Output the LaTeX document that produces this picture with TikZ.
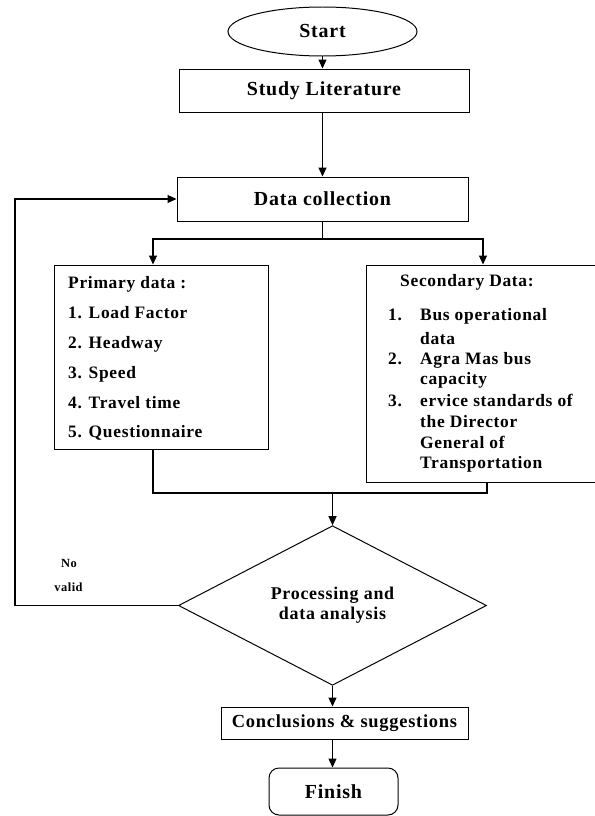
\documentclass[tikz,border=0pt]{standalone}
\usepackage{fontspec}
\setmainfont{Liberation Serif}[LetterSpace=4]
\usetikzlibrary{shapes.geometric,arrows.meta}
\begin{document}
\begin{tikzpicture}[x=1bp,y=-1bp,
        box/.style={draw, line width=1pt, inner sep=0pt},
        steptext/.style={font=\fontsize{20}{24}\selectfont\bfseries},
        listtext/.style={font=\fontsize{17.5}{21}\selectfont\bfseries, anchor=base west, inner sep=0pt},
        notetext/.style={font=\fontsize{12.5}{15}\selectfont\bfseries, inner sep=0pt},
        flow/.style={line width=1.2pt, -{Triangle[length=9pt,width=8pt]}},
        link/.style={line width=1.2pt}]
        \useasboundingbox (0,0) rectangle (595,816);
        \clip (0,0) rectangle (595,816);
        % main steps
        \node[box, ellipse, steptext, minimum width=189bp, minimum height=49bp] (start) at (322.5,31.5) {Start};
        \node[box, steptext, minimum width=290bp, minimum height=43bp] (lit) at (324,90.5) {Study Literature};
        \node[box, steptext, minimum width=291bp, minimum height=44bp] (coll) at (322.5,199) {Data collection};
        \node[box, minimum width=214bp, minimum height=184bp] (prim) at (161,357) {};
        \node[box, minimum width=234bp, minimum height=217bp] (sec) at (483,373.5) {};
        \node[box, diamond, align=center, font=\fontsize{18}{20}\selectfont\bfseries,
              minimum width=308bp, minimum height=153bp] (proc) at (332.5,605.5) {Processing and\\data analysis};
        \node[box, font=\fontsize{18.5}{22}\selectfont\bfseries, minimum width=247bp, minimum height=32bp] (concl) at (344.5,723) {Conclusions \& suggestions};
        \node[box, steptext, rounded corners=10bp, minimum width=129bp, minimum height=47bp] (fin) at (333.5,791.5) {Finish};
        % primary data
        \node[listtext] (p0) at (68,288) {Primary data :};
        \node[listtext] (p1) at (68,318) {1. Load Factor};
        \node[listtext] (p2) at (68,348) {2. Headway};
        \node[listtext] (p3) at (68,378) {3. Speed};
        \node[listtext] (p4) at (68,408) {4. Travel time};
        \node[listtext] (p5) at (68,437) {5. Questionnaire};
        % secondary data
        \node[listtext] (s0) at (400,286) {Secondary Data:};
        \node[listtext] (s1n) at (388,320) {1.};
        \node[listtext] (s1) at (420,320) {Bus operational};
        \node[listtext] (s1b) at (420,344) {data};
        \node[listtext] (s2n) at (388,364) {2.};
        \node[listtext] (s2) at (420,364) {Agra Mas bus};
        \node[listtext] (s2b) at (420,384) {capacity};
        \node[listtext] (s3n) at (388,406) {3.};
        \node[listtext] (s3) at (420,406) {ervice standards of};
        \node[listtext] (s3b) at (420,427) {the Director};
        \node[listtext] (s3c) at (420,448) {General of};
        \node[listtext] (s3d) at (420,468) {Transportation};
        % loop label
        \node[notetext] (no) at (69,563) {No};
        \node[notetext] (valid) at (68.5,587) {valid};
        \coordinate (split) at (322.5,239);
        \coordinate (join) at (332.5,493);
        \coordinate (back) at (15,603);
        % connectors
        \draw[flow] (start.south) -- (start.south |- lit.north);
        \draw[flow] (coll |- lit.south) -- (coll.north);
        \draw[link] (coll.south) -- (split);
        \draw[flow] (split) -| ([xshift=-8bp]prim.north);
        \draw[flow] (split) -| (sec.north);
        \draw[link] ([xshift=-8bp]prim.south) |- ([xshift=4bp]sec.south |- join) -- ([xshift=4bp]sec.south);
        \draw[flow] (join) -- (proc.north);
        \draw[flow] (proc.south) -- (proc.south |- concl.north);
        \draw[flow] (proc.south |- concl.south) -- (proc.south |- fin.north);
        \draw[flow] (proc.west) -- (proc.west -| back) |- (coll.west);
    \end{tikzpicture}
\end{document}
